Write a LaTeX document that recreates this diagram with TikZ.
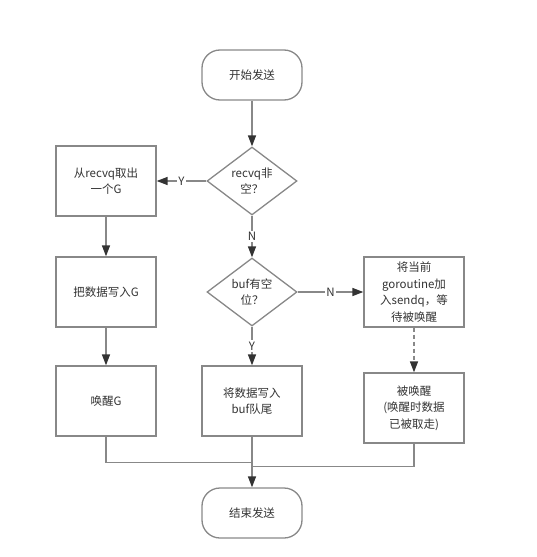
\documentclass[tikz,border=0pt]{standalone}
\usepackage{fontspec}
\setmainfont{Noto Sans CJK SC}
\usetikzlibrary{positioning,shapes.geometric,arrows.meta}
\definecolor{linegray}{HTML}{888888}
\definecolor{tipgray}{HTML}{333333}
\tikzset{
  base node/.style={draw=linegray,line width=1.3pt,text=tipgray,align=center,
    font=\fontsize{11.5}{16.5}\selectfont,inner sep=0pt},
  term node/.style={base node,rectangle,rounded corners=18pt,minimum width=100pt,minimum height=50pt},
  box node/.style={base node,rectangle,minimum width=100pt,minimum height=70pt},
  test node/.style={base node,diamond,aspect=1.3,minimum width=90pt,minimum height=68pt},
  flow/.style={draw=linegray,line width=1.5pt,-{Triangle[length=11pt,width=8pt,color=tipgray]}},
  link/.style={draw=linegray,line width=1.5pt},
  tag/.style={fill=white,text=tipgray,font=\fontsize{11.5}{13}\selectfont,inner sep=1.5pt}
}
\begin{document}
\begin{tikzpicture}
\useasboundingbox (-252pt,75pt) rectangle (284pt,-482pt);
\begin{scope}[on grid]

  \node[term node] (start) {开始发送};
  \node[test node] (recvq) [below =106pt of start] {recvq非\\空？};
  \node[box node] (take) [left =146pt of recvq] {从recvq取出\\一个G};
  \node[test node] (buf) [below =111pt of recvq] {buf有空\\位？};
  \node[box node] (copy) [below =111pt of take] {把数据写入G};
  \node[box node] (sendq) [right =162pt of buf] {将当前\\goroutine加\\入sendq，等\\待被唤醒};
  \node[box node] (wake) [below =109pt of copy] {唤醒G};
  \node[box node] (write) [below =109pt of buf] {将数据写入\\buf队尾};
  \node[box node] (woken) [below =116pt of sendq] {被唤醒\\(唤醒时数据\\已被取走)};
  \node[term node] (end) [below =112pt of write] {结束发送};

  \coordinate[below =26pt of write.south] (joinL);
  \coordinate[below =30pt of write.south] (joinR);

    \path
    (start) edge [flow] (recvq)
    (recvq) edge [flow] node[tag] {Y} (take)
    (recvq) edge [flow] node[tag] {N} (buf)
    (take) edge [flow] (copy)
    (copy) edge [flow] (wake)
    (buf) edge [flow] node[tag] {N} (sendq)
    (buf) edge [flow] node[tag] {Y} (write)
    (sendq) edge [flow, dash pattern=on 4pt off 3pt] (woken)
    (write) edge [flow] (end)
    ;
    \draw[link] (wake.south) |- (joinL);
    \draw[link] (woken.south) |- (joinR);
\end{scope}
\end{tikzpicture}
\end{document}
